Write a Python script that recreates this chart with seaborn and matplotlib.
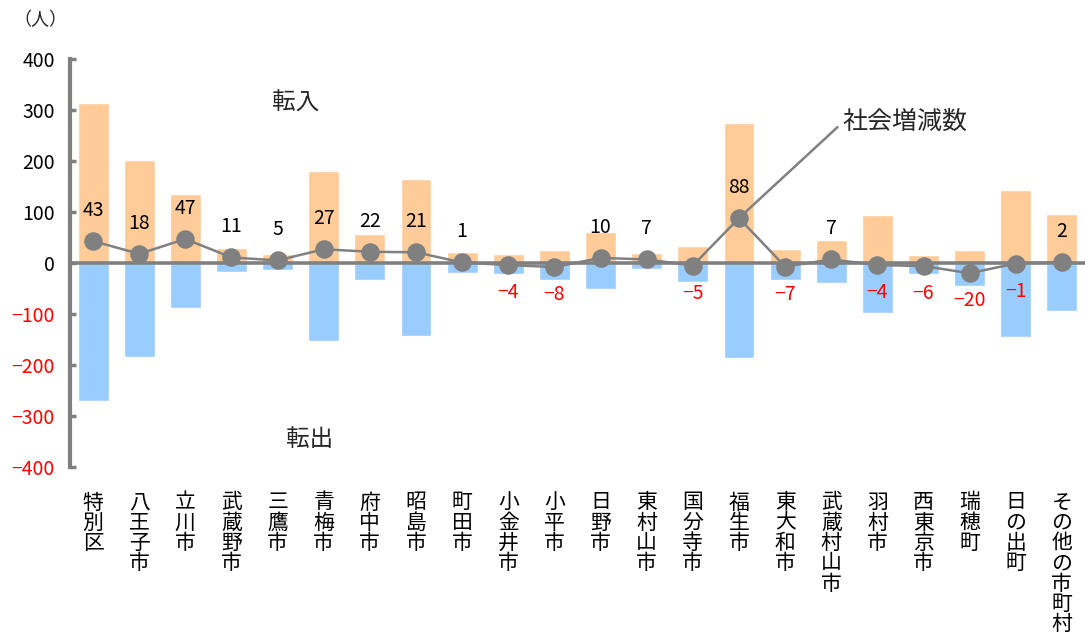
import numpy as np
import pandas as pd
import matplotlib
matplotlib.use("Agg")
import matplotlib.pyplot as plt
import matplotlib.transforms as mtransforms
import seaborn as sns

# Municipalities (x categories)
areas = ["特別区", "八王子市", "立川市", "武蔵野市", "三鷹市", "青梅市", "府中市",
         "昭島市", "町田市", "小金井市", "小平市", "日野市", "東村山市", "国分寺市",
         "福生市", "東大和市", "武蔵村山市", "羽村市", "西東京市", "瑞穂町",
         "日の出町", "その他の市町村"]

# Moves in (転入), moves out (転出, as counts) and net social change (社会増減数)
inflow = [313, 202, 135, 29, 18, 180, 56, 165, 21, 17, 25, 60, 19, 33,
          274, 27, 46, 94, 16, 25, 144, 97]
outflow = [270, 184, 88, 18, 13, 153, 34, 144, 20, 21, 33, 50, 12, 38,
           186, 34, 39, 98, 22, 45, 145, 95]
net = [43, 18, 47, 11, 5, 27, 22, 21, 1, -4, -8, 10, 7, -5,
       88, -7, 7, -4, -6, -20, -1, 2]

yticks = [-400, -300, -200, -100, 0, 100, 200, 300, 400]

ORANGE = "#FFCC99"
BLUE = "#99CCFF"
GRAY = "#808080"
RED = "#FF0000"

sns.set_theme(style="white")
plt.rcParams["font.family"] = ["Noto Sans CJK JP", "DejaVu Sans"]
plt.rcParams["axes.unicode_minus"] = True

df = pd.DataFrame({"area": areas, "in": inflow,
                   "out": [-v for v in outflow], "net": net})

W, H = 1085, 643
fig = plt.figure(figsize=(W / 100, H / 100), dpi=100)
ax = fig.add_axes([70 / W, 1 - 467 / H, 1 - 70 / W, 408 / H])

sns.barplot(data=df, x="area", y="in", color=ORANGE, saturation=1,
            width=0.67, ax=ax, zorder=1)
sns.barplot(data=df, x="area", y="out", color=BLUE, saturation=1,
            width=0.67, ax=ax, zorder=1)
sns.pointplot(data=df, x="area", y="net", color=GRAY, markers="o",
              markersize=12, linewidth=1.8, errorbar=None, ax=ax)
for ln in ax.lines:
    ln.set_zorder(5)
for coll in ax.collections:
    coll.set_zorder(6)

ax.set_xlim(-0.5, len(areas) - 0.5)
ax.set_ylim(-400, 400)
ax.set_xlabel("")
ax.set_ylabel("")

# Axes styling: thick gray left spine, baseline at zero
for side in ("top", "right"):
    ax.spines[side].set_visible(False)
ax.spines["left"].set_color(GRAY)
ax.spines["left"].set_linewidth(3)
ax.spines["bottom"].set_position(("data", 0))
ax.spines["bottom"].set_color(GRAY)
ax.spines["bottom"].set_linewidth(2.6)
ax.spines["bottom"].set_zorder(4)
ax.spines["left"].set_zorder(4)

ax.set_xticks(np.arange(-0.5, len(areas), 1.0))
ax.set_xticklabels([])
ax.tick_params(axis="x", direction="in", length=4, width=2.2, color=GRAY)

ax.set_yticks(yticks)
ax.set_yticklabels([f"{v}".replace("-", "\u2212") for v in yticks], fontsize=14)
ax.tick_params(axis="y", direction="in", length=4, width=2.5, color=GRAY,
               pad=11, left=True)
for lbl, v in zip(ax.get_yticklabels(), yticks):
    lbl.set_color(RED if v < 0 else "black")

# Vertical category labels below the plot
trans = mtransforms.blended_transform_factory(ax.transData, ax.transAxes)
for i, name in enumerate(areas):
    ax.text(i, -0.06, "\n".join(name), transform=trans, ha="center",
            va="top", fontsize=15, linespacing=0.9, color="black")

# Net change labels
for i, v in enumerate(net):
    if v >= 0:
        ax.annotate(str(v), (i, v), xytext=(0, 22), textcoords="offset points",
                    ha="center", va="center", fontsize=14, color="black",
                    zorder=7)
    else:
        ax.annotate(f"\u2212{abs(v)}", (i, v), xytext=(0, -20),
                    textcoords="offset points", ha="center", va="center",
                    fontsize=14, color=RED, zorder=7)

# Series captions
ax.text(4.4, 314, "転入", ha="center", va="center", fontsize=17)
ax.text(4.7, -347, "転出", ha="center", va="center", fontsize=17)
peak = net.index(max(net))
ax.annotate("社会増減数", xy=(peak, net[peak]), xytext=(16.25, 276),
            ha="left", va="center", fontsize=18,
            arrowprops=dict(arrowstyle="-", color=GRAY, lw=1.8,
                            relpos=(0, 0.5), shrinkA=2, shrinkB=0))

fig.text(40 / W, 1 - 20 / H, "（人）", ha="center", va="center", fontsize=13)

fig.savefig("out.png", dpi=100)
